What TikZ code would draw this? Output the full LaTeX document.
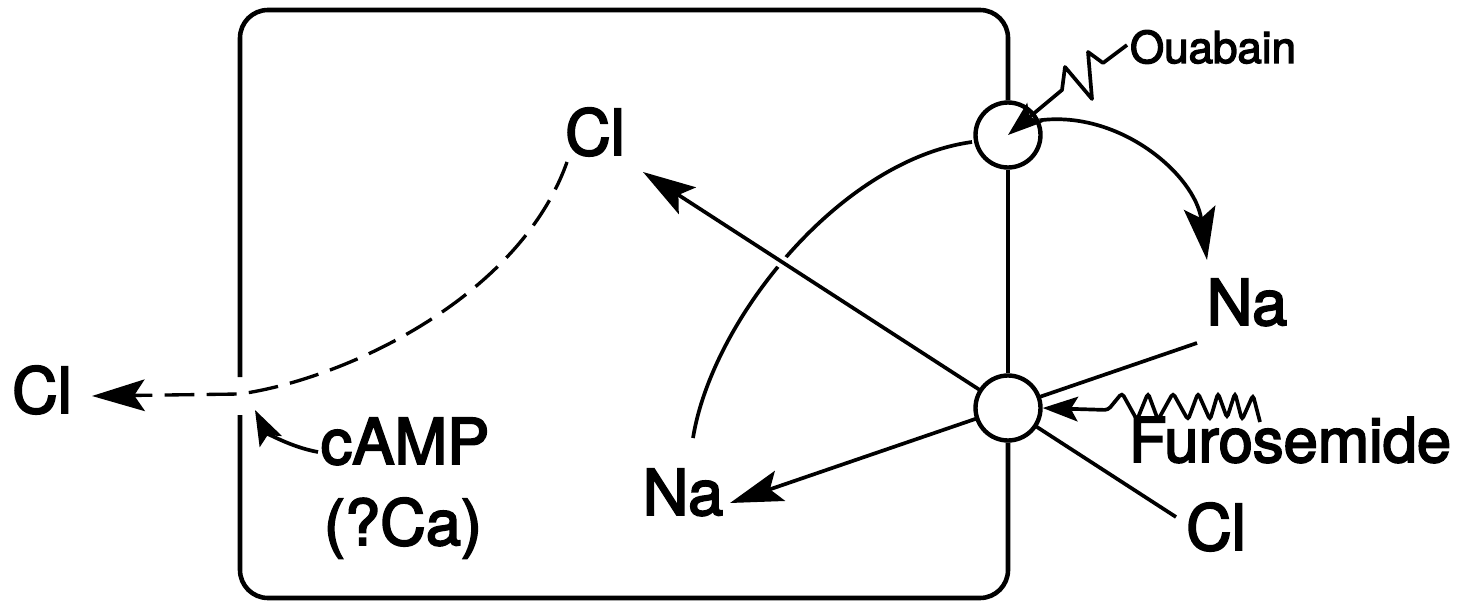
\documentclass[tikz,border=0pt]{standalone}
\usepackage{fontspec}
\setmainfont{TeX Gyre Heros}
\newfontfamily\heavyfont{TeX Gyre Heros}[FakeBold=3]
\usetikzlibrary{arrows.meta,calc}
\begin{document}
\begin{tikzpicture}[x=0.02cm,y=-0.02cm,
  box/.style={line width=2.6pt, line join=round},
  line/.style={line width=2.1pt},
  dashline/.style={line width=1.9pt, dash pattern=on 17pt off 7pt},
  pump/.style={circle, draw, fill=white, line width=2.5pt, minimum size=1.3cm, inner sep=0pt},
  bigtip/.tip={Stealth[length=30pt,width=18pt,inset=6pt]},
  smalltip/.tip={Stealth[length=20pt,width=14pt,inset=4pt]},
  lbl/.style={inner sep=0pt, anchor=base, font=\heavyfont\fontsize{36}{40}\selectfont},
  slbl/.style={inner sep=0pt, anchor=base, font=\heavyfont\fontsize{25}{28}\selectfont}]
\path[use as bounding box, fill=white] (0,0) rectangle (1459,604);

% free ends
\coordinate (arcS) at (693,438);
\coordinate (arcE) at (972,142);
\coordinate (clRend) at (1176,517);
\coordinate (clCtip) at (643,172);
\coordinate (naRend) at (1197,343);
\coordinate (naItip) at (730,503);
\coordinate (dashS) at (567,162);
\coordinate (gapT) at (240,394);
\coordinate (clLtip) at (92,396);
\coordinate (campS) at (318,452);
\coordinate (campT) at (255,410);
\coordinate (naRtip) at (1207,260);
\coordinate (ouaS) at (1127,45);
\coordinate (furS) at (1260,422);

% K arc (drawn first, cut by Cl line)
\draw[line] (arcS) .. controls (712,320) and (840,160) .. (arcE);
\draw[white, line width=7pt] ($(clRend)!0.69!(clCtip)$) -- ($(clRend)!0.79!(clCtip)$);
% Cl through co-transporter
\draw[line, -{bigtip}] (clRend) -- (clCtip);
% Na through co-transporter
\draw[line, -{bigtip}] (naRend) -- (naItip);
% dashed Cl exit
\draw[dashline, -{bigtip}] (dashS) .. controls (520,295) and (350,378) .. (gapT) -- (clLtip);

% transporters
\node[pump] (p1) at (1008,135) {};
\node[pump] (p2) at (1008,408) {};

% cell outline
\draw[box, rounded corners=0.56cm] (240,377) -- (240,10) -- (1008,10) -- (p1.north);
\draw[box] (p1.south) -- (p2.north);
\draw[box, rounded corners=0.56cm] (p2.south) -- (1008,598) -- (240,598) -- (240,415);

% Na pumped out
\draw[line, -{bigtip}] (p1.25) .. controls (1120,110) and (1195,175) .. (naRtip);
% Ouabain
\draw[line, -{smalltip}, line join=round] (ouaS) -- (1103,63) -- (1088,52) -- (1092,99) -- (1065,67) -- (1062,90) -- (p1.center);
% Furosemide
\draw[line, -{smalltip}, rounded corners=2pt] (furS) -- (1253,395) -- (1242,420) -- (1235,393) -- (1227,418) -- (1218,393) -- (1210,420) -- (1198,393) -- (1188,420) -- (1173,393) -- (1158,420) -- (1148,393) -- (1137,420) -- (1122,393) -- (1108,410) -- (p2.east);
% cAMP
\draw[line, -{smalltip}] (campS) .. controls (290,447) and (266,432) .. (campT);

% labels
\node[slbl] (oua) at (1213,63) {Ouabain};
\node[lbl] (naR) at (1247,325) {Na};
\node[lbl, font=\heavyfont\fontsize{35}{40}\selectfont] (fur) at (1290,462) {Furosemide};
\node[lbl] (clR) at (1216,550) {Cl};
\node[lbl] (naI) at (683,515) {Na};
\node[lbl] (clC) at (595,155) {Cl};
\node[lbl] (clL) at (42,413) {Cl};
\node[lbl] (camp) at (405,464) {cAMP};
\node[lbl] (ca) at (403,545) {(?Ca)};
\end{tikzpicture}
\end{document}
